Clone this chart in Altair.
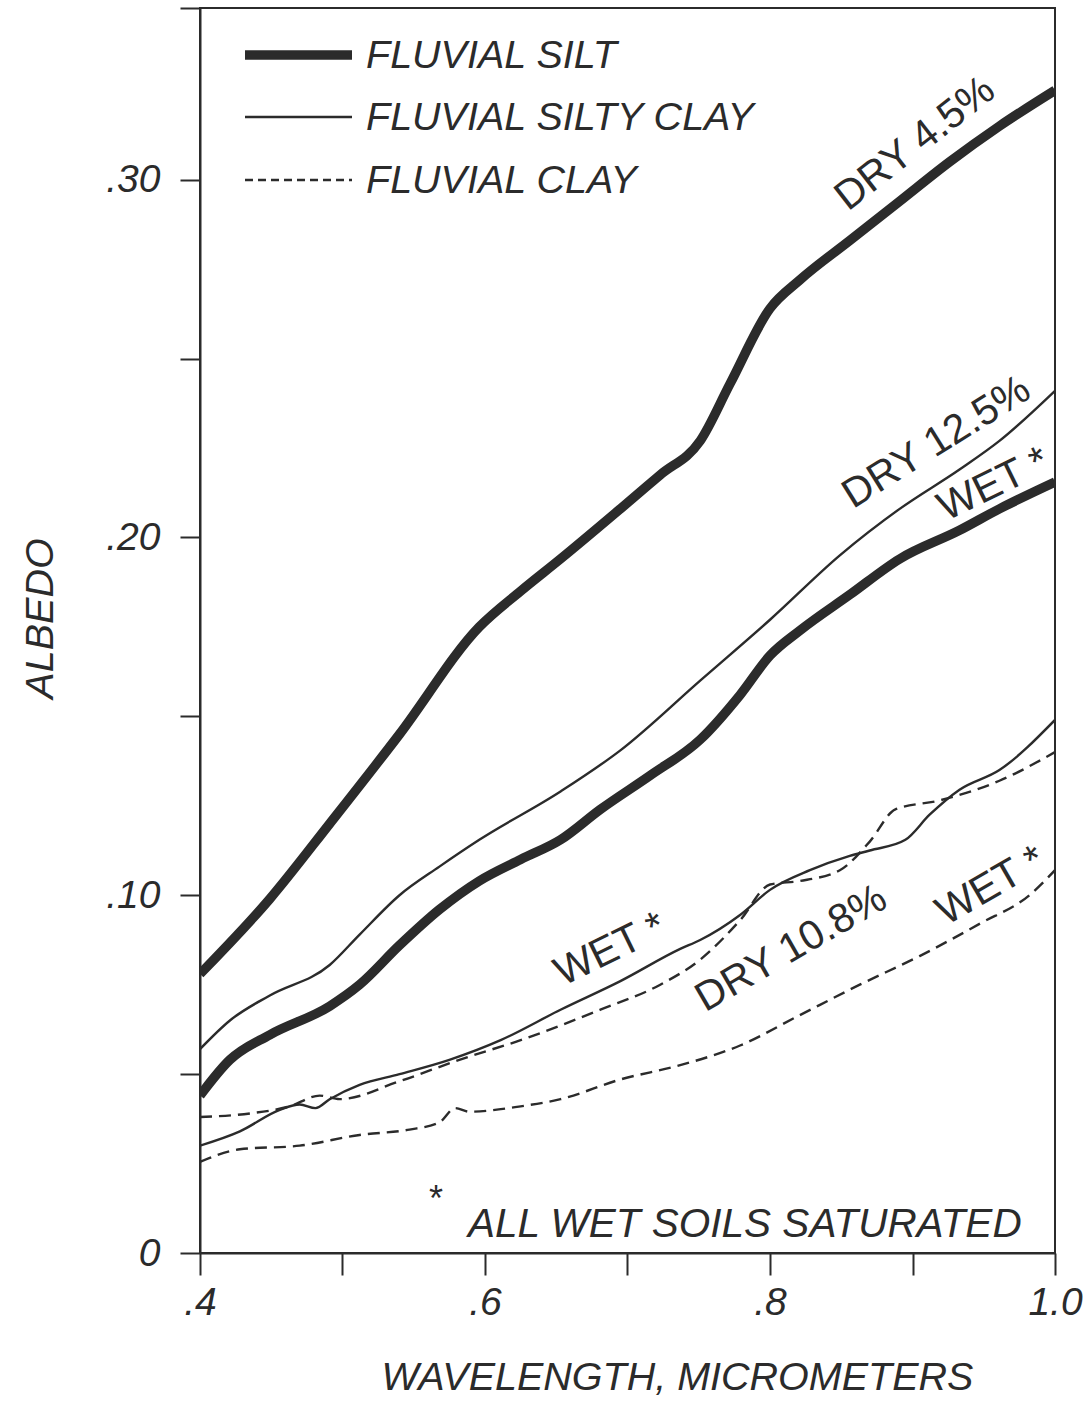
import altair as alt
import pandas as pd

# ---------------- data ----------------
SILT_DRY_WL = [0.40, 0.449, 0.491, 0.540, 0.596, 0.625, 0.653, 0.695, 0.723, 0.751, 0.772, 0.800, 0.821, 0.856, 0.891, 0.926, 0.961, 1.0]
SILT_DRY_ALB = [0.078, 0.099, 0.120, 0.145, 0.175, 0.185, 0.194, 0.208, 0.2175, 0.227, 0.243, 0.264, 0.272, 0.283, 0.294, 0.305, 0.315, 0.325]

SILT_WET_WL = [0.40, 0.421, 0.449, 0.491, 0.512, 0.540, 0.568, 0.596, 0.625, 0.653, 0.681, 0.716, 0.751, 0.779, 0.800, 0.821, 0.856, 0.891, 0.933, 0.961, 1.0]
SILT_WET_ALB = [0.044, 0.054, 0.061, 0.069, 0.075, 0.086, 0.096, 0.104, 0.110, 0.1155, 0.124, 0.1335, 0.1435, 0.156, 0.167, 0.174, 0.184, 0.194, 0.202, 0.208, 0.2155]

SCLAY_DRY_WL = [0.40, 0.421, 0.449, 0.491, 0.512, 0.540, 0.568, 0.596, 0.653, 0.695, 0.751, 0.800, 0.849, 0.891, 0.933, 0.961, 1.0]
SCLAY_DRY_ALB = [0.057, 0.065, 0.072, 0.0805, 0.089, 0.100, 0.108, 0.1155, 0.129, 0.1405, 0.160, 0.177, 0.195, 0.208, 0.219, 0.227, 0.241]

SCLAY_WET_WL = [0.40, 0.428, 0.456, 0.470, 0.481, 0.491, 0.512, 0.540, 0.575, 0.611, 0.653, 0.695, 0.737, 0.751, 0.779, 0.800, 0.828, 0.856, 0.870, 0.895, 0.912, 0.933, 0.961, 1.0]
SCLAY_WET_ALB = [0.030, 0.034, 0.040, 0.0415, 0.0405, 0.043, 0.047, 0.050, 0.054, 0.0595, 0.068, 0.076, 0.085, 0.0875, 0.0945, 0.1015, 0.107, 0.111, 0.1125, 0.1155, 0.1225, 0.1295, 0.135, 0.149]

CLAY_DRY_WL = [0.40, 0.435, 0.463, 0.484, 0.498, 0.540, 0.582, 0.625, 0.681, 0.723, 0.751, 0.779, 0.800, 0.821, 0.849, 0.870, 0.888, 0.919, 0.961, 1.0]
CLAY_DRY_ALB = [0.038, 0.039, 0.041, 0.044, 0.043, 0.048, 0.054, 0.0595, 0.068, 0.075, 0.082, 0.093, 0.103, 0.104, 0.107, 0.115, 0.124, 0.1265, 0.132, 0.140]

CLAY_WET_WL = [0.40, 0.428, 0.470, 0.512, 0.547, 0.568, 0.579, 0.589, 0.625, 0.653, 0.695, 0.737, 0.779, 0.821, 0.863, 0.905, 0.947, 0.982, 1.0]
CLAY_WET_ALB = [0.0255, 0.029, 0.030, 0.033, 0.0345, 0.0365, 0.0405, 0.0395, 0.041, 0.043, 0.0485, 0.0525, 0.058, 0.0665, 0.075, 0.083, 0.092, 0.100, 0.107]

SERIES = [
    ("silt_dry", "thick", SILT_DRY_WL, SILT_DRY_ALB),
    ("silt_wet", "thick", SILT_WET_WL, SILT_WET_ALB),
    ("sclay_dry", "thin", SCLAY_DRY_WL, SCLAY_DRY_ALB),
    ("sclay_wet", "thin", SCLAY_WET_WL, SCLAY_WET_ALB),
    ("clay_dry", "dash", CLAY_DRY_WL, CLAY_DRY_ALB),
    ("clay_wet", "dash", CLAY_WET_WL, CLAY_WET_ALB),
]

LEGEND_LABELS = ["FLUVIAL SILT", "FLUVIAL SILTY CLAY", "FLUVIAL CLAY"]

ANNOT_TEXT = ["DRY 4.5%", "DRY 12.5%", "WET *", "WET *", "DRY 10.8%", "WET *"]
ANNOT_WL = [0.902, 0.917, 0.957, 0.688, 0.815, 0.955]
ANNOT_ALB = [0.310, 0.2265, 0.2147, 0.0847, 0.0850, 0.1025]
ANNOT_ANGLE = [322, 328, 334, 334, 330, 330]

FOOTNOTE = "ALL WET SOILS SATURATED"

X_TICKS = [0.4, 0.5, 0.6, 0.7, 0.8, 0.9, 1.0]
Y_TICKS = [0.0, 0.05, 0.1, 0.15, 0.2, 0.25, 0.3]
Y_MAX = 0.348

# ---------------- build tables ----------------
rows = []
for name, style, wl, alb in SERIES:
    for i, (w, a) in enumerate(zip(wl, alb)):
        rows.append({"series": name, "style": style, "wl": w, "alb": a, "i": i})
df = pd.DataFrame(rows)

ann = pd.DataFrame({"text": ANNOT_TEXT, "wl": ANNOT_WL, "alb": ANNOT_ALB, "angle": ANNOT_ANGLE})

INK = "#2b2b2b"
FONT = "Liberation Sans"
W, H = 855, 1245

xs = alt.Scale(domain=[0.4, 1.0], nice=False, zero=False)
ys = alt.Scale(domain=[0, Y_MAX], nice=False)

x_axis = alt.Axis(
    values=X_TICKS,
    labelExpr="datum.value == 0.4 ? '.4' : datum.value == 0.6 ? '.6' : datum.value == 0.8 ? '.8' : datum.value == 1 ? '1.0' : ''",
    title="WAVELENGTH, MICROMETERS",
    titleX=477, titleY=124, titleAlign="center", titleBaseline="middle",
    grid=False, tickSize=22, labelPadding=8,
)
y_axis = alt.Axis(
    values=Y_TICKS + [Y_MAX],
    labelExpr="datum.value == 0 ? '0' : datum.value == 0.1 ? '.10' : datum.value == 0.2 ? '.20' : datum.value == 0.3 ? '.30' : ''",
    title="ALBEDO",
    titleX=-160, titleY=610, titleAlign="center", titleBaseline="middle", titleAngle=270,
    grid=False, tickSize=20, labelPadding=20,
)

base = alt.Chart(df)

def line_layer(style, width, dash=None):
    kw = dict(color=INK, strokeWidth=width, interpolate="monotone", strokeCap="butt", strokeJoin="round", clip=True)
    if dash:
        kw["strokeDash"] = dash
    return base.transform_filter(alt.datum.style == style).mark_line(**kw).encode(
        x=alt.X("wl:Q", scale=xs, axis=x_axis),
        y=alt.Y("alb:Q", scale=ys, axis=y_axis),
        detail="series:N",
        order="i:Q",
    )

thick = line_layer("thick", 9.5)
thin = line_layer("thin", 2.4)
dashed = line_layer("dash", 2.4, [12, 7])

annot = alt.Chart(ann).mark_text(
    font=FONT, fontSize=41, color=INK, align="center", baseline="middle"
).encode(
    x=alt.X("wl:Q", scale=xs),
    y=alt.Y("alb:Q", scale=ys),
    text="text:N",
    angle=alt.Angle("angle:Q", scale=None),
)

# legend (drawn manually, inside plot at upper left)
leg_layers = []
leg_y = [47, 109, 172]
leg_styles = [(9.5, None), (2.4, None), (2.4, [8, 5])]
for lab, yy, (sw, dash) in zip(LEGEND_LABELS, leg_y, leg_styles):
    kw = dict(color=INK, strokeWidth=sw, strokeCap="butt")
    if dash:
        kw["strokeDash"] = dash
    leg_layers.append(
        alt.Chart(pd.DataFrame({"t": [lab]})).mark_rule(**kw).encode(
            x=alt.value(45), x2=alt.value(152), y=alt.value(yy)
        )
    )
    leg_layers.append(
        alt.Chart(pd.DataFrame({"t": [lab]})).mark_text(
            font=FONT, fontSize=39.5, fontStyle="italic", color=INK, align="left", baseline="middle"
        ).encode(x=alt.value(166), y=alt.value(yy + 1), text="t:N")
    )

foot_star = alt.Chart(pd.DataFrame({"t": ["*"]})).mark_text(
    font=FONT, fontSize=36, color=INK, align="center", baseline="middle"
).encode(x=alt.value(236), y=alt.value(1192), text="t:N")
foot_text = alt.Chart(pd.DataFrame({"t": [FOOTNOTE]})).mark_text(
    font=FONT, fontSize=40.5, fontStyle="italic", color=INK, align="left", baseline="alphabetic"
).encode(x=alt.value(268), y=alt.value(1229), text="t:N")

chart = alt.layer(thick, thin, dashed, annot, *leg_layers, foot_star, foot_text).properties(
    width=W, height=H,
    autosize=alt.AutoSizeParams(type="none"),
    padding={"left": 200, "top": 8, "right": 28, "bottom": 156},
    background="white",
).configure_view(
    stroke=INK, strokeWidth=2
).configure_axis(
    domainColor=INK, domainWidth=2, tickColor=INK, tickWidth=2,
    labelFont=FONT, labelFontSize=39, labelFontStyle="italic", labelColor=INK,
    titleFont=FONT, titleFontSize=39.5, titleFontStyle="italic", titleFontWeight="normal", titleColor=INK,
    labelFlush=False, labelOverlap=False,
)

chart.save("out.html", embed_options={"renderer": "svg", "actions": False})
